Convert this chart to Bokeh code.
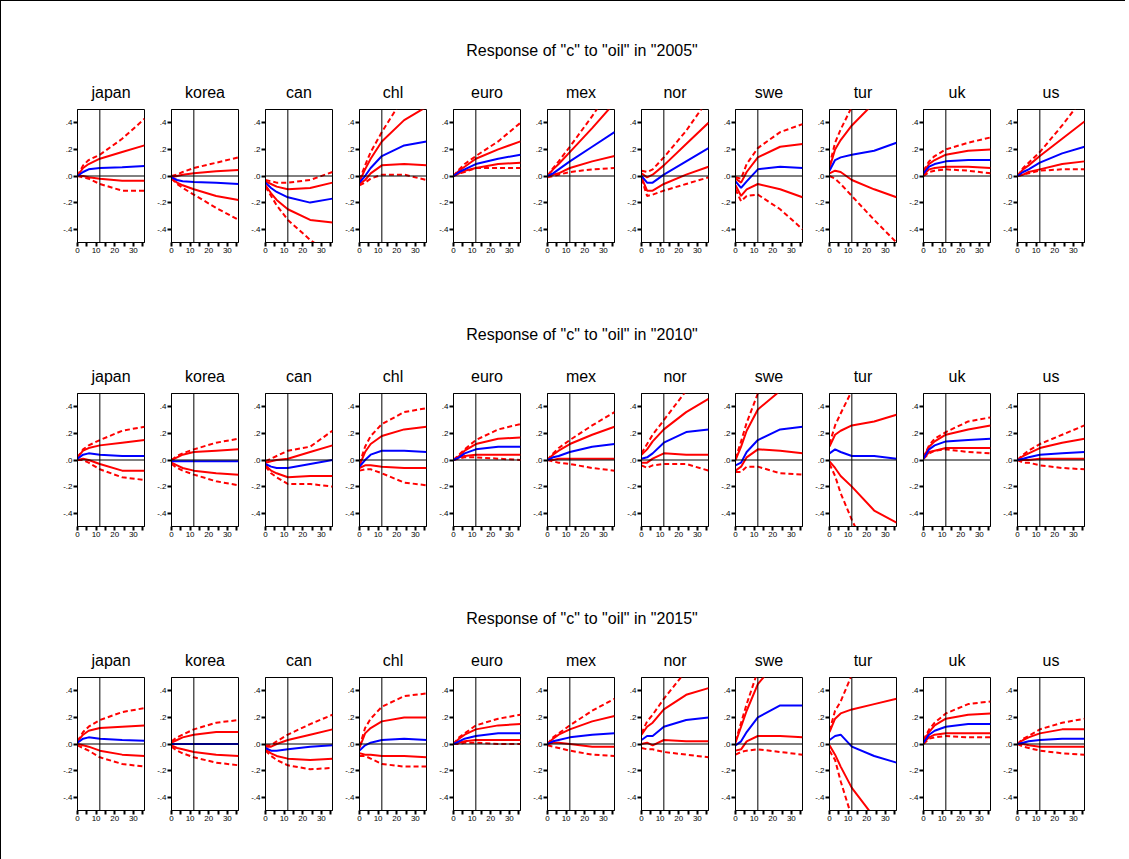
from bokeh.plotting import figure
from bokeh.layouts import column, row
from bokeh.models import Div, Spacer, FixedTicker, Span, Range1d
from bokeh.embed import file_html
from bokeh.resources import INLINE

HORIZONS = [0, 3, 6, 12, 24, 36]
COUNTRIES = ["japan", "korea", "can", "chl", "euro", "mex", "nor", "swe", "tur", "uk", "us"]
YEARS = ["2005", "2010", "2015"]
Y_TICKS = [-0.4, -0.2, 0.0, 0.2, 0.4]
Y_TICK_LABELS = ["-.4", "-.2", ".0", ".2", ".4"]
X_TICKS = [0, 10, 20, 30]

# ---- 2005 ----
med_2005 = [[0,.03,.05,.06,.065,.075],[-.01,-.03,-.04,-.045,-.05,-.06],[-.05,-.09,-.12,-.16,-.20,-.17],
            [-.05,0,.06,.15,.23,.26],[0,.03,.05,.09,.13,.16],[0,.02,.05,.11,.22,.33],[0,-.05,-.05,.01,.11,.21],
            [-.04,-.09,-.04,.05,.07,.06],[.04,.12,.14,.16,.19,.25],[.02,.07,.09,.11,.12,.12],[0,.03,.05,.10,.17,.22]]
hi68_2005 = [[0,.06,.09,.13,.18,.23],[-.01,0,.01,.02,.035,.045],[-.04,-.06,-.08,-.10,-.09,-.05],
             [-.04,.05,.13,.26,.42,.52],[0,.04,.07,.13,.20,.26],[0,.05,.09,.18,.36,.55],[.02,-.01,.01,.08,.24,.40],
             [-.02,-.05,.03,.14,.22,.24],[.06,.2,.27,.38,.55,.7],[.03,.09,.12,.16,.19,.20],[0,.05,.08,.15,.28,.41]]
hi95_2005 = [[0,.08,.12,.16,.28,.43],[0,.01,.03,.06,.10,.14],[-.03,-.04,-.05,-.05,-.03,.03],
             [-.03,.08,.18,.33,.6,.8],[0,.05,.09,.15,.26,.40],[0,.06,.11,.22,.45,.7],[.04,.03,.05,.14,.34,.58],
             [-.01,-.02,.09,.21,.33,.39],[.08,.25,.35,.52,.8,1],[.04,.11,.15,.2,.25,.29],[0,.06,.10,.18,.38,.6]]
lo68_2005 = [[0,0,-.01,-.02,-.035,-.035],[-.02,-.05,-.07,-.10,-.15,-.18],[-.07,-.13,-.18,-.25,-.33,-.35],
             [-.06,-.03,.02,.08,.09,.08],[0,.02,.04,.06,.09,.10],[0,.01,.02,.06,.11,.15],[-.01,-.11,-.11,-.06,.01,.07],
             [-.07,-.15,-.10,-.06,-.10,-.16],[.02,.04,.03,-.03,-.10,-.16],[.01,.05,.06,.07,.07,.06],[0,.01,.03,.05,.09,.11]]
lo95_2005 = [[0,-.01,-.02,-.06,-.11,-.11],[-.02,-.06,-.09,-.14,-.24,-.33],[-.08,-.15,-.22,-.33,-.48,-.6],
             [-.07,-.05,-.02,.01,.01,-.03],[0,.02,.03,.06,.06,.06],[-.01,0,.01,.03,.05,.06],[-.02,-.15,-.14,-.11,-.06,-.01],
             [-.10,-.19,-.15,-.14,-.25,-.40],[0,-.02,-.06,-.15,-.33,-.5],[0,.03,.04,.05,.04,.02],[0,.01,.02,.04,.05,.05]]

# ---- 2010 ----
med_2010 = [[.01,.04,.05,.04,.03,.03],[-.01,-.01,-.01,-.01,-.01,-.01],[-.03,-.05,-.06,-.06,-.03,0],
            [-.05,0,.04,.07,.07,.06],[0,.02,.05,.08,.10,.10],[0,.02,.03,.06,.10,.12],[.01,.02,.05,.13,.21,.23],
            [-.04,-.02,.06,.15,.23,.25],[.05,.08,.06,.03,.03,.01],[.01,.08,.11,.14,.15,.16],[0,.01,.02,.04,.05,.06]]
hi68_2010 = [[.02,.07,.09,.11,.13,.15],[0,.02,.04,.06,.07,.08],[-.02,-.01,0,.01,.06,.11],
             [-.04,.06,.12,.18,.23,.25],[0,.03,.07,.12,.16,.17],[0,.04,.07,.12,.19,.25],[.04,.08,.14,.23,.36,.46],
             [0,.10,.22,.38,.52,.6],[.10,.19,.22,.26,.29,.34],[.02,.10,.14,.19,.23,.26],[0,.03,.05,.09,.13,.16]]
hi95_2010 = [[.02,.08,.11,.15,.22,.25],[0,.03,.05,.08,.13,.16],[-.01,.01,.03,.07,.10,.22],
             [-.03,.10,.18,.27,.36,.39],[0,.04,.08,.15,.23,.27],[0,.05,.09,.15,.26,.36],[.05,.12,.19,.30,.52,.7],
             [.01,.14,.28,.5,.7,.8],[.12,.26,.35,.52,.8,1],[.02,.11,.16,.21,.29,.32],[0,.04,.07,.12,.19,.26]]
lo68_2010 = [[0,.01,0,-.03,-.08,-.08],[-.02,-.04,-.06,-.08,-.10,-.11],[-.04,-.08,-.10,-.13,-.12,-.12],
             [-.06,-.04,-.04,-.05,-.06,-.06],[0,.02,.03,.04,.04,.04],[0,0,.01,.01,.01,.01],[-.02,-.02,.01,.05,.04,.04],
             [-.08,-.05,.02,.08,.07,.05],[-.01,-.06,-.12,-.20,-.38,-.47],[.01,.06,.07,.09,.09,.09],[0,0,0,.01,.01,.01]]
lo95_2010 = [[0,0,-.02,-.07,-.13,-.15],[-.03,-.06,-.08,-.11,-.16,-.19],[-.05,-.10,-.13,-.18,-.18,-.20],
             [-.08,-.07,-.07,-.10,-.17,-.19],[0,.01,.02,.02,.01,0],[0,-.01,-.02,-.03,-.06,-.08],[-.04,-.06,-.04,-.03,-.03,-.08],
             [-.09,-.09,-.05,-.05,-.10,-.11],[-.03,-.12,-.25,-.45,-.8,-1],[.01,.05,.07,.08,.06,.05],[0,-.02,-.02,-.04,-.06,-.07]]

# ---- 2015 ----
med_2015 = [[.01,.04,.05,.04,.03,.025],[0,0,0,0,0,0],[-.03,-.05,-.05,-.04,-.02,-.01],
            [-.05,-.01,.01,.03,.04,.03],[0,.02,.04,.06,.08,.08],[0,.02,.03,.05,.07,.08],[.03,.06,.06,.13,.18,.20],
            [-.01,.02,.09,.20,.29,.29],[.03,.06,.07,-.02,-.09,-.14],[.01,.07,.10,.13,.15,.15],[0,.01,.02,.03,.04,.04]]
hi68_2015 = [[.02,.07,.10,.12,.13,.14],[.01,.03,.05,.07,.09,.09],[-.02,-.02,0,.03,.07,.11],
             [-.03,.08,.12,.17,.20,.20],[0,.04,.07,.11,.14,.15],[0,.04,.07,.11,.17,.21],[.07,.13,.16,.26,.37,.42],
             [.01,.13,.25,.45,.65,.75],[.09,.19,.23,.26,.30,.34],[.02,.09,.14,.19,.22,.23],[0,.03,.05,.08,.11,.11]]
hi95_2015 = [[.02,.09,.13,.18,.24,.27],[.02,.05,.07,.11,.16,.18],[-.01,-.01,.02,.07,.15,.22],
             [-.02,.12,.19,.28,.36,.38],[0,.05,.08,.14,.19,.22],[0,.05,.08,.14,.25,.34],[.08,.17,.22,.34,.55,.7],
             [.02,.16,.30,.55,.8,.9],[.10,.25,.32,.52,.8,1],[.03,.11,.16,.23,.30,.32],[0,.04,.06,.11,.16,.19]]
lo68_2015 = [[0,-.01,-.02,-.05,-.08,-.09],[-.01,-.03,-.04,-.06,-.08,-.09],[-.04,-.07,-.09,-.11,-.12,-.11],
             [-.07,-.08,-.08,-.09,-.09,-.10],[0,.01,.02,.03,.03,.03],[0,.01,.01,0,-.02,-.02],[0,.01,-.01,.03,.02,.02],
             [-.05,-.04,.02,.06,.06,.05],[-.01,-.08,-.17,-.33,-.55,-.7],[.01,.05,.07,.08,.08,.08],[0,0,-.01,-.02,-.02,-.02]]
lo95_2015 = [[-.01,-.03,-.05,-.10,-.15,-.17],[-.02,-.05,-.07,-.10,-.14,-.16],[-.05,-.09,-.12,-.16,-.19,-.18],
             [-.09,-.09,-.11,-.15,-.17,-.17],[0,0,.01,.01,0,0],[-.01,-.02,-.03,-.05,-.08,-.09],[-.03,-.04,-.04,-.06,-.08,-.10],
             [-.08,-.06,-.05,-.04,-.06,-.08],[-.05,-.12,-.28,-.55,-.9,-1.1],[0,.04,.05,.06,.05,.05],[0,-.02,-.03,-.05,-.07,-.08]]

BANDS = {
    "2005": (lo95_2005, lo68_2005, med_2005, hi68_2005, hi95_2005),
    "2010": (lo95_2010, lo68_2010, med_2010, hi68_2010, hi95_2010),
    "2015": (lo95_2015, lo68_2015, med_2015, hi68_2015, hi95_2015),
}

RED = "#ff0000"
BLUE = "#0000ff"
FONT = "Liberation Sans"


def panel(name, lines):
    p = figure(frame_width=67, frame_height=133, output_backend="svg", toolbar_location=None,
               x_range=Range1d(0, 36), y_range=Range1d(-0.5, 0.5), title=name,
               min_border_left=17, min_border_right=10, min_border_top=6, min_border_bottom=0)
    p.title.align = "center"
    p.title.text_font = FONT
    p.title.text_font_size = "16px"
    p.title.text_font_style = "normal"
    p.title.text_color = "black"
    p.title.standoff = 17
    p.grid.visible = False
    p.outline_line_color = "black"
    p.outline_line_width = 1
    p.background_fill_color = "white"
    p.border_fill_color = "white"
    for ax in (p.xaxis[0], p.yaxis[0]):
        ax.axis_line_color = "black"
        ax.major_tick_line_width = 2
        ax.minor_tick_line_width = 2
        ax.major_tick_out = 4
        ax.major_tick_in = 0
        ax.minor_tick_out = 4
        ax.minor_tick_in = 0
        ax.major_label_text_font = FONT
        ax.major_label_text_font_size = "8px"
        ax.major_label_text_color = "black"
        ax.major_label_standoff = 1
    p.xaxis.ticker = FixedTicker(ticks=X_TICKS, minor_ticks=[5, 15, 25, 35])
    p.yaxis.ticker = FixedTicker(ticks=Y_TICKS, minor_ticks=[])
    p.yaxis.major_label_overrides = {t: l for t, l in zip(Y_TICKS, Y_TICK_LABELS)}
    p.add_layout(Span(location=12, dimension="height", line_color="black", line_width=1))
    p.add_layout(Span(location=0, dimension="width", line_color="black", line_width=1))
    lo95, lo68, med, hi68, hi95 = lines
    p.line(HORIZONS, lo95, color=RED, line_width=2, line_dash="5 3")
    p.line(HORIZONS, hi95, color=RED, line_width=2, line_dash="5 3")
    p.line(HORIZONS, lo68, color=RED, line_width=2)
    p.line(HORIZONS, hi68, color=RED, line_width=2)
    p.line(HORIZONS, med, color=BLUE, line_width=2)
    return p


blocks = []
ROW_W = 94 * 11
LEFT = 59
for k, yr in enumerate(YEARS):
    bands = BANDS[yr]
    figs = [panel(c, [b[i] for b in bands]) for i, c in enumerate(COUNTRIES)]
    top_h = 62 if k == 0 else 92
    pad = top_h - 28
    title = Div(text='Response of "c" to "oil" in "%s"' % yr, width=ROW_W, height=top_h,
                styles={"font-family": FONT, "font-size": "16px", "text-align": "center", "color": "black",
                        "padding-top": "%dpx" % pad, "box-sizing": "border-box", "width": "%dpx" % ROW_W})
    blocks.append(row(Spacer(width=LEFT, height=top_h), title))
    blocks.append(row(Spacer(width=LEFT, height=10), *figs))

page = column(*blocks, styles={"border-left": "1px solid black", "border-top": "1px solid black",
                               "width": "1125px", "min-height": "860px"})
open("out.html", "w").write(file_html(page, INLINE))
